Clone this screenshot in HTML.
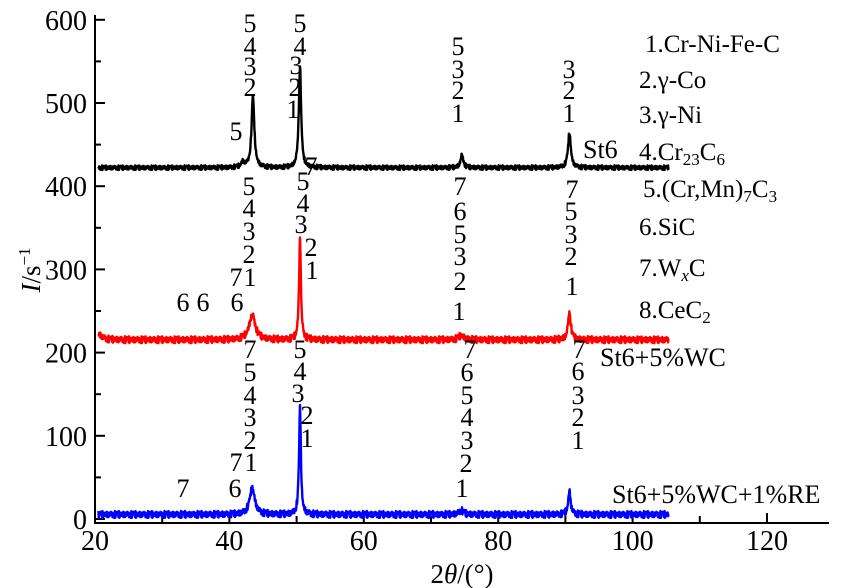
<!DOCTYPE html>
<html><head><meta charset="utf-8">
<style>
html,body{margin:0;padding:0;background:#fff;}
svg{display:block;font-family:"Liberation Serif",serif;}
</style></head>
<body>
<svg id="chart" width="850" height="588" viewBox="0 0 850 588" xmlns="http://www.w3.org/2000/svg">
<g id="axes"></g>
<g id="series"></g>
<g id="ann" font-size="26" fill="#000"></g>
<g id="legend" font-size="25" fill="#000">
 <text x="645" y="52">1.Cr-Ni-Fe-C</text>
 <text x="639" y="88">2.γ-Co</text>
 <text x="639" y="123">3.γ-Ni</text>
 <text x="639" y="160">4.Cr<tspan font-size="17" dy="5">23</tspan><tspan dy="-5">C</tspan><tspan font-size="17" dy="5">6</tspan></text>
 <text x="643" y="197">5.(Cr,Mn)<tspan font-size="17" dy="5">7</tspan><tspan dy="-5">C</tspan><tspan font-size="17" dy="5">3</tspan></text>
 <text x="639" y="235">6.SiC</text>
 <text x="639" y="276">7.W<tspan font-size="17" font-style="italic" dy="5">x</tspan><tspan dy="-5">C</tspan></text>
 <text x="639" y="318">8.CeC<tspan font-size="17" dy="5">2</tspan></text>
</g>
</svg>
<script>
const xTicks=[20,40,60,80,100,120];
const xMinor=[30,50,70,90,110];
const yTicks=[0,100,200,300,400,500,600];
const yMinor=[50,150,250,350,450,550];
const noise=[2,-1,3,-3,1,4,-2,0,-4,2,5,-1,-3,1,3,-2,4,-4,0,2,-1,-3,5,1,-2,3,-1,0,2,-4,1,3,-2,-3,4,0,-1,2,-2,1,3];
const blackPeaks=[[43.5,85,0.25],[50.5,123,0.2],[74.6,15,0.25],[90.6,42,0.25],[42.0,6,0.3]];
const redPeaks=[[43.4,30,0.55],[50.5,124,0.16],[74.5,5,0.5],[90.6,33,0.25],[20.6,6,0.6]];
const bluePeaks=[[43.4,32,0.45],[50.5,130,0.16],[74.5,5,0.4],[90.6,28,0.22]];
const bases=[422,215,5];
const noiseAmp=[0.6,0.9,0.9];
const xs=v=>95+(v-20)*6.72;
const ys=v=>519-v*0.832;
const NS="http://www.w3.org/2000/svg";
function mk(tag,attrs,parent){const e=document.createElementNS(NS,tag);for(const k in attrs)e.setAttribute(k,attrs[k]);parent.appendChild(e);return e;}
const axes=document.getElementById('axes');
let a=mk('line',{x1:95,y1:15,x2:95,y2:523,stroke:'#000','stroke-width':2},axes);


a=mk('line',{x1:94,y1:523,x2:829,y2:523,stroke:'#000','stroke-width':2},axes);


xTicks.forEach(v=>{const t=mk('line',{x1:xs(v),y1:523,x2:xs(v),y2:513,stroke:'#000','stroke-width':2},axes);


const l=mk('text',{x:xs(v),y:550,'text-anchor':'middle','font-size':28},axes);l.textContent=v;

});
xMinor.forEach(v=>{const t=mk('line',{x1:xs(v),y1:523,x2:xs(v),y2:516,stroke:'#000','stroke-width':2},axes);

});
yTicks.forEach(v=>{const t=mk('line',{x1:95,y1:ys(v),x2:105,y2:ys(v),stroke:'#000','stroke-width':2},axes);


const l=mk('text',{x:87,y:ys(v)+10,'text-anchor':'end','font-size':28},axes);l.textContent=v;

});
yMinor.forEach(v=>{const t=mk('line',{x1:95,y1:ys(v),x2:101,y2:ys(v),stroke:'#000','stroke-width':2},axes);

});
let xt=mk('text',{x:462,y:583,'text-anchor':'middle','font-size':27},axes);
xt.innerHTML='2<tspan font-style="italic">θ</tspan>/(°)';


let yt=mk('text',{x:0,y:0,'text-anchor':'middle','font-size':27,transform:'translate(40,270) rotate(-90)'},axes);
yt.innerHTML='<tspan font-style="italic">I</tspan>/s<tspan font-size="17" dy="-10">−1</tspan>';



const sg=document.getElementById('series');
const peaksAll=[blackPeaks,redPeaks,bluePeaks];
const colors=['#000','#ff0000','#0000ff'];
const names=['series-st6','series-st6-5wc','series-st6-5wc-1re'];
peaksAll.forEach((pk,si)=>{
  let d='';let i=0;
  for(let x=20.5;x<=105.4;x+=0.06,i++){
    let y=bases[si]+noise[(i*7+si*11)%noise.length]*noiseAmp[si];
    pk.forEach(p=>{const u=(x-p[0])/p[2];y+=p[1]/(1+u*u);});
    d+=(i?'L':'M')+xs(x).toFixed(1)+','+ys(y).toFixed(1);
  }
  const p=mk('path',{d:d,fill:'none',stroke:colors[si],'stroke-width':2.4,'stroke-linejoin':'round'},sg);
  
  
});

const labels=[
[250,32,'5'],[250,55,'4'],[250,75,'3'],[250,96,'2'],[236,140,'5'],
[300,32,'5'],[300,55,'4'],[296,74,'3'],[295,96,'2'],[293,118,'1'],
[458,55,'5'],[458,78,'3'],[458,99,'2'],[458,122,'1'],
[569,78,'3'],[569,99,'2'],[569,122,'1'],
[249,195,'5'],[249,217,'4'],[249,240,'3'],[249,263,'2'],[250,286,'1'],[236,286,'7'],[237,311,'6'],[183,311,'6'],[203,311,'6'],
[303,190,'5'],[311,175,'7'],[303,212,'4'],[301,233,'3'],[311,256,'2'],[312,279,'1'],
[460,195,'7'],[460,220,'6'],[460,243,'5'],[460,265,'3'],[460,290,'2'],[459,320,'1'],
[572,198,'7'],[571,220,'5'],[571,243,'3'],[571,265,'2'],[572,295,'1'],
[250,358,'7'],[250,381,'5'],[250,404,'4'],[250,426,'3'],[250,449,'2'],[251,471,'1'],[236,471,'7'],[235,497,'6'],[183,497,'7'],
[300,358,'5'],[300,380,'4'],[298,402,'3'],[307,424,'2'],[307,447,'1'],
[470,358,'7'],[467,381,'6'],[467,404,'5'],[467,426,'4'],[467,449,'3'],[466,472,'2'],[462,497,'1'],
[579,358,'7'],[578,380,'6'],[578,404,'3'],[578,426,'2'],[578,449,'1']
];
const ann=document.getElementById('ann');
labels.forEach(l=>{const t=mk('text',{x:l[0],y:l[1],'text-anchor':'middle'},ann);t.textContent=l[2];

});
const sl=[[583,158,'St6','label-st6'],[600,366,'St6+5%WC','label-st6-5wc'],[612,503,'St6+5%WC+1%RE','label-st6-5wc-1re']];
sl.forEach(l=>{const t=mk('text',{x:l[0],y:l[1]},ann);t.textContent=l[2];

});
</script>
</body></html>
